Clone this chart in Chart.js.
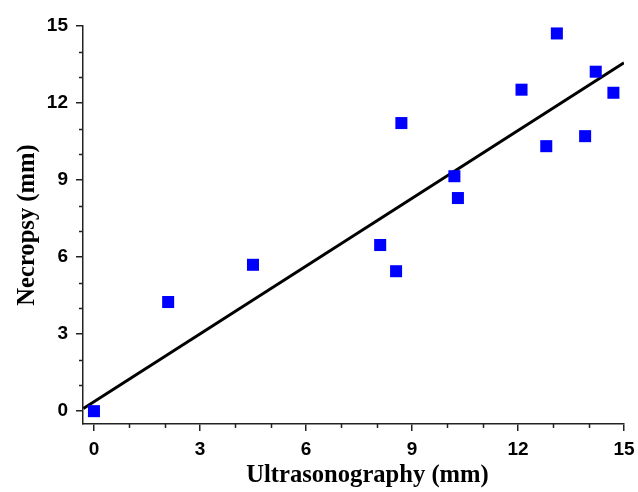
<!DOCTYPE html>
<html>
<head>
<meta charset="utf-8">
<script src="https://cdn.jsdelivr.net/npm/chart.js@4"></script>
<style>
html,body{margin:0;padding:0;background:#fff;}
#wrap{width:638px;height:492px;}
</style>
</head>
<body>
<div id="wrap"><canvas id="c" width="638" height="492"></canvas></div>
<script>
// Data
const ultrasonography = [0, 2.1, 4.5, 8.1, 8.55, 8.7, 10.2, 10.3, 12.1, 12.8, 13.1, 13.9, 14.2, 14.7];
const necropsy       = [0, 4.25, 5.7, 6.47, 5.45, 11.22, 9.15, 8.3, 12.52, 10.32, 14.71, 10.71, 13.22, 12.4];
const fitX = [-0.3, 15];
const fitY = [0.1, 13.57];
const xTicks = [0, 3, 6, 9, 12, 15];
const yTicks = [0, 3, 6, 9, 12, 15];
const xMinor = [1, 2, 4, 5, 7, 8, 10, 11, 13, 14];
const yMinor = [1, 2, 4, 5, 7, 8, 10, 11, 13, 14];
const xTitle = 'Ultrasonography (mm)';
const yTitle = 'Necropsy (mm)';

const scatterPts = ultrasonography.map((x, i) => ({x: x, y: necropsy[i]}));
const fitPts = fitX.map((x, i) => ({x: x, y: fitY[i]}));

const extras = {
  id: 'extras',
  afterDraw(chart) {
    const ctx = chart.ctx;
    const xs = chart.scales.x, ys = chart.scales.y;
    ctx.save();
    ctx.strokeStyle = '#222';
    ctx.lineWidth = 1.5;
    ctx.beginPath();
    xMinor.forEach(v => {
      const p = Math.round(xs.getPixelForValue(v)) + 0.5;
      ctx.moveTo(p, ys.bottom);
      ctx.lineTo(p, ys.bottom + 4);
    });
    yMinor.forEach(v => {
      const p = Math.round(ys.getPixelForValue(v)) + 0.5;
      ctx.moveTo(xs.left, p);
      ctx.lineTo(xs.left - 4, p);
    });
    ctx.stroke();
    // x axis title (slightly right of centre, as in the reference)
    ctx.fillStyle = '#000';
    ctx.font = 'bold 24.6px "Liberation Serif"';
    ctx.textAlign = 'center';
    ctx.textBaseline = 'middle';
    ctx.fillText(xTitle, (xs.left + xs.right) / 2 + 14, xs.bottom - 16);
    ctx.restore();
  }
};

new Chart(document.getElementById('c'), {
  type: 'scatter',
  data: {
    datasets: [
      {
        type: 'line',
        data: fitPts,
        borderColor: '#000',
        borderWidth: 3,
        pointRadius: 0,
        fill: false,
        order: 2
      },
      {
        data: scatterPts,
        pointStyle: 'rect',
        pointRadius: 8.5,
        pointHoverRadius: 8.5,
        backgroundColor: '#0000FF',
        borderColor: '#0000FF',
        borderWidth: 0,
        order: 1
      }
    ]
  },
  options: {
    responsive: false,
    animation: false,
    events: [],
    layout: {padding: {left: 0, right: 14, top: 26, bottom: 0}},
    plugins: {legend: {display: false}, tooltip: {enabled: false}},
    scales: {
      x: {
        type: 'linear',
        min: -0.31,
        max: 15,
        afterBuildTicks: s => { s.ticks = xTicks.map(v => ({value: v})); },
        afterFit: s => { s.height = 68; s.paddingRight = 0; s.paddingLeft = 0; },
        grid: {drawOnChartArea: false, drawTicks: true, tickLength: 7, color: '#222', lineWidth: 1.5},
        border: {display: true, color: '#222', width: 1.5},
        ticks: {color: '#000', padding: 7, maxRotation: 0, font: {family: 'Liberation Sans', size: 19, weight: 'bold'}},
        title: {display: false}
      },
      y: {
        type: 'linear',
        min: -0.5,
        max: 15,
        afterBuildTicks: s => { s.ticks = yTicks.map(v => ({value: v})); },
        afterFit: s => { s.width = 83; s.paddingTop = 0; s.paddingBottom = 0; },
        grid: {drawOnChartArea: false, drawTicks: true, tickLength: 7, color: '#222', lineWidth: 1.5},
        border: {display: true, color: '#222', width: 1.5},
        ticks: {color: '#000', padding: 8, font: {family: 'Liberation Sans', size: 19, weight: 'bold'}},
        title: {display: true, text: yTitle, color: '#000', padding: {top: 13, bottom: 0},
                font: {family: 'Liberation Serif', size: 24.6, weight: 'bold'}}
      }
    }
  },
  plugins: [extras]
});
</script>
</body>
</html>
